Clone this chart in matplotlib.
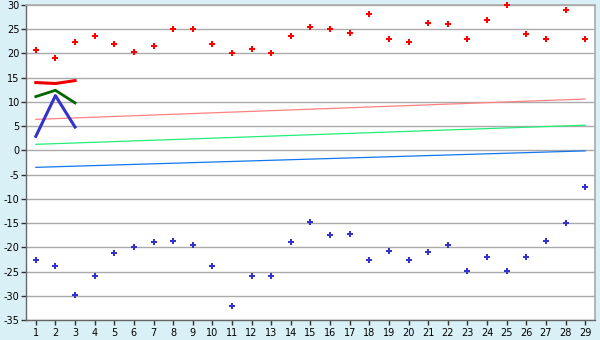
import matplotlib
matplotlib.use("Agg")
import matplotlib.pyplot as plt
import numpy as np

plt.rcParams["axes.unicode_minus"] = False

days = list(range(1, 30))
x_labels = [str(d) for d in days]

red_points = [20.8, 19.0, 22.3, 23.5, 22.0, 20.4, 21.5, 25.0, 25.0, 21.9,
              20.0, 20.9, 20.0, 23.5, 25.4, 25.0, 24.2, 28.1, 22.9, 22.3,
              26.2, 26.0, 22.9, 27.0, 30.0, 24.0, 22.9, 28.9, 22.9]
blue_points = [-22.7, -23.9, -29.9, -26.0, -21.2, -20.0, -19.0, -18.8, -19.6, -23.9,
               -32.2, -26.0, -26.0, -19.0, -14.8, -17.5, -17.3, -22.7, -20.8, -22.7,
               -21.0, -19.6, -24.9, -22.1, -24.9, -22.1, -18.8, -15.0, -7.6]

short_x = [1, 2, 3]
red_line = [14.0, 13.8, 14.4]
green_line = [11.1, 12.4, 9.8]
blue_line = [2.9, 11.3, 4.8]

trend_x = [1, 29]
pink_trend = [6.4, 10.6]
green_trend = [1.25, 5.2]
blue_trend = [-3.5, -0.1]

y_ticks = list(range(-35, 31, 5))

bg = "#daf0f7"
fig = plt.figure(figsize=(6, 3.4), dpi=100, facecolor=bg)
ax = fig.add_axes([26/600, 20/340, 569/600, 315/340])
ax.set_facecolor("white")

ax.set_xlim(0.5, 29.5)
ax.set_ylim(-35, 30)
ax.set_yticks(y_ticks)
ax.set_xticks(days)
ax.set_xticklabels(x_labels)
ax.yaxis.grid(True, color="#aaaaaa", linewidth=1.0)
ax.set_axisbelow(True)

ax.plot(trend_x, pink_trend, color="#ff8080", linewidth=0.9)
ax.plot(trend_x, green_trend, color="#22ee77", linewidth=0.9)
ax.plot(trend_x, blue_trend, color="#1177ee", linewidth=0.9)

ax.plot(short_x, red_line, color="#ee0000", linewidth=2.2)
ax.plot(short_x, green_line, color="#006600", linewidth=2.0)
ax.plot(short_x, blue_line, color="#3333cc", linewidth=2.2)

ax.plot(days, red_points, linestyle="none", marker="P", markersize=4.2,
        color="#ff0000", markeredgewidth=0, clip_on=False, zorder=5)
ax.plot(days, blue_points, linestyle="none", marker="P", markersize=4.2,
        color="#3333cc", markeredgewidth=0, clip_on=False, zorder=5)

for s in ["top", "right"]:
    ax.spines[s].set_color("#aaaaaa")
    ax.spines[s].set_linewidth(1.2)
for s in ["left", "bottom"]:
    ax.spines[s].set_color("#666666")
    ax.spines[s].set_linewidth(1.0)

ax.tick_params(axis="both", labelsize=7, labelcolor="#000000", length=3.5,
               width=1.0, direction="out", color="#333333")
ax.tick_params(axis="y", pad=1)
ax.tick_params(axis="x", pad=2)

fig.savefig("out.png", dpi=100, facecolor=bg)
